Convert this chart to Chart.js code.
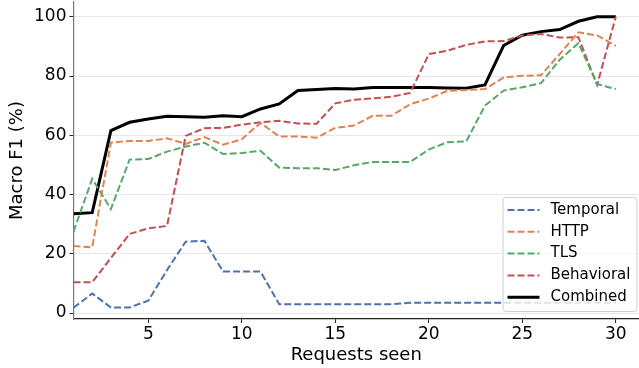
<!DOCTYPE html>
<html>
<head>
<meta charset="utf-8">
<script src="https://cdn.jsdelivr.net/npm/chart.js@4"></script>
<style>
  html,body{margin:0;padding:0;background:#fff;}
  #wrap{width:639px;height:368px;position:relative;}
</style>
</head>
<body>
<div id="wrap"><canvas id="chartLine"></canvas></div>
<script>
// requests seen (x axis)
var requests = [1,2,3,4,5,6,7,8,9,10,11,12,13,14,15,16,17,18,19,20,21,22,23,24,25,26,27,28,29,30];

// macro F1 per feature group
var temporal   = [1.8,6.6,1.9,1.9,4.2,14.5,24.1,24.4,14,14,14,3.0,3.0,3.0,3.0,3.0,3.0,3.0,3.5,3.5,3.5,3.5,3.5,3.5,3.5,3.5,3.5,3.5,3.5,3.5];
var http       = [22.6,22.2,57.5,58.1,58.1,59,57.1,59.4,56.8,58.7,64.2,59.6,59.6,59.2,62.5,63.3,66.6,66.6,70.5,72.4,75,75.3,75.6,79.5,80.1,80.3,87.4,94.8,93.7,90.2];
var tls        = [27.5,45.3,35.1,51.8,52,54.5,56.2,57.5,53.7,54,54.8,49.1,48.9,48.9,48.3,49.9,51,51,51,55.2,57.7,57.9,70,75.1,76.2,77.6,85.5,91.1,77.3,75.6];
var behavioral = [10.4,10.4,18.6,26.7,28.6,29.4,59.8,62.4,62.5,63.6,64.4,64.9,64,63.9,70.8,72,72.5,73,74.3,87.4,88.6,90.5,91.7,91.8,93.7,94.2,93,93.1,77,100];
var combined   = [33.5,33.9,61.6,64.4,65.5,66.4,66.3,66.1,66.6,66.3,68.9,70.6,75.1,75.5,75.8,75.6,76.1,76.1,76.1,76.1,76,75.9,77,90.3,93.8,95,95.7,98.5,100,100];

var xTicks = [5,10,15,20,25,30];
var yTicks = [0,20,40,60,80,100];

var seriesNames  = ["Temporal","HTTP","TLS","Behavioral","Combined"];
var seriesValues = [temporal,http,tls,behavioral,combined];
var seriesColors = ["#4c72b0","#dd8452","#55a868","#c44e52","#000000"];

var FONT = "'DejaVu Sans', sans-serif";

function toPoints(vals){
	return vals.map(function(v,i){ return {x:requests[i], y:v}; });
}

var datasets = seriesNames.map(function(name,i){
	var solid = (name === "Combined");
	return {
		label: name,
		data: toPoints(seriesValues[i]),
		borderColor: seriesColors[i],
		backgroundColor: seriesColors[i],
		borderWidth: solid ? 3 : 2,
		borderDash: solid ? [] : [7,3],
		pointRadius: 0,
		tension: 0,
		fill: false
	};
});

// legend drawn inside the plot, lower right
var insideLegend = {
	id: "insideLegend",
	afterDraw: function(chart){
		var ctx = chart.ctx;
		var ca = chart.chartArea;
		var boxW = 134, boxH = 114;
		var bx = ca.right - boxW - 2.5, by = ca.bottom - boxH - 8;
		ctx.save();
		ctx.fillStyle = "rgba(255,255,255,0.8)";
		ctx.strokeStyle = "#d0d0d0";
		ctx.lineWidth = 1;
		ctx.beginPath();
		ctx.roundRect(bx+0.5, by+0.5, boxW, boxH, 3);
		ctx.fill();
		ctx.stroke();
		ctx.font = "15px " + FONT;
		ctx.textBaseline = "middle";
		chart.data.datasets.forEach(function(ds,i){
			var cy = by + 13 + i*21.8;
			ctx.strokeStyle = ds.borderColor;
			ctx.lineWidth = ds.borderWidth;
			ctx.setLineDash(ds.borderDash);
			ctx.beginPath();
			ctx.moveTo(bx+5, cy);
			ctx.lineTo(bx+37, cy);
			ctx.stroke();
			ctx.setLineDash([]);
			ctx.fillStyle = "#000";
			ctx.fillText(ds.label, bx+48, cy);
		});
		ctx.restore();
	}
};

var ctx = document.getElementById("chartLine");
var myLineChart = new Chart(ctx, {
	type: "line",
	data: { datasets: datasets },
	plugins: [insideLegend],
	options: {
		responsive: true,
		maintainAspectRatio: false,
		animation: false,
		layout: { padding: { top: 2, right: 0, left: 0, bottom: 0 } },
		plugins: { legend: { display: false }, tooltip: { enabled: false } },
		scales: {
			x: {
				type: "linear",
				min: 1,
				max: 31.24,
				afterBuildTicks: function(scale){ scale.ticks = xTicks.map(function(v){ return {value:v}; }); },
				afterFit: function(scale){ scale.height = 49; scale.paddingLeft = 0; scale.paddingRight = 0; },
				grid: { display: true, drawOnChartArea: false, tickLength: 4, tickColor: "#222", tickWidth: 1 },
				border: { color: "#222", width: 1.2 },
				ticks: { color: "#000", font: { family: FONT, size: 17 }, padding: 1, maxRotation: 0, autoSkip: false },
				title: { display: true, text: "Requests seen", color: "#000", font: { family: FONT, size: 18 }, padding: { top: 0, bottom: 2 } }
			},
			y: {
				min: -2,
				max: 105,
				afterBuildTicks: function(scale){ scale.ticks = yTicks.map(function(v){ return {value:v}; }); },
				afterFit: function(scale){ scale.width = 73.5; scale.paddingTop = 0; scale.paddingBottom = 0; },
				grid: { color: "#e6e6e6", lineWidth: 1, tickLength: 4, tickColor: "#222", tickWidth: 1 },
				border: { color: "#777", width: 1.2 },
				ticks: { color: "#000", font: { family: FONT, size: 17 }, padding: 3 },
				title: { display: true, text: "Macro F1 (%)", color: "#000", font: { family: FONT, size: 18 }, padding: { top: 7, bottom: 0 } }
			}
		}
	}
});
</script>
</body>
</html>
